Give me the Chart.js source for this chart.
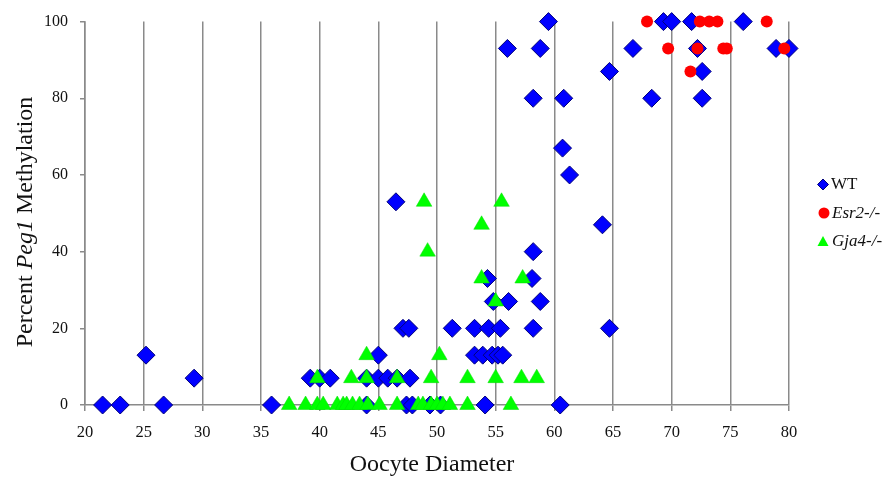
<!DOCTYPE html>
<html><head><meta charset="utf-8">
<script src="https://cdn.jsdelivr.net/npm/chart.js@4/dist/chart.umd.min.js"></script>
<style>html,body{margin:0;padding:0;background:#fff}#wrap{width:892px;height:488px;position:relative}</style>
</head><body><div id="wrap"><canvas id="c" width="892" height="488" style="width:892px;height:488px"></canvas></div>
<script>
// ---- data ----
const xTickValues = [20,25,30,35,40,45,50,55,60,65,70,75,80];
const yTickValues = [0,20,40,60,80,100];
const seriesNames = ['WT','Esr2-/-','Gja4-/-'];

const wtDiameter = [21.5,23,25.2,26.7,29.3,35.9,39.2,40,40.9,44,44,45,45,45.8,46.5,46.6,47.1,47.6,47.4,47.9,47.7,49.4,50.3,51.3,53.2,54.4,55.4,53.2,53.9,54.7,55.2,55.6,54.1,54.3,54.8,56.1,56,58.2,58.1,58.2,58.2,58.8,58.8,59.5,60.5,60.7,60.8,61.3,64.1,64.7,64.7,66.7,68.3,69.3,70,71.7,72.2,72.6,72.6,76.1,78.9,80];
const wtMethylation = [0,0,13,0,7,0,7,7,7,0,7,7,13,7,53,7,20,20,0,0,7,0,0,20,20,20,20,13,13,13,13,13,0,33,27,27,93,80,33,40,20,27,93,100,0,67,80,60,47,20,87,93,80,100,100,100,93,87,80,100,93,93];

const esr2Diameter = [67.9,72.4,73.2,73.9,78.1,69.7,72.2,74.4,74.7,79.6,71.6];
const esr2Methylation = [100,100,100,100,100,93,93,93,93,93,87];

const gja4Diameter = [37.4,38.8,39.8,40.3,41.5,42,42.3,42.8,43.4,44.1,45.1,46.6,48.4,48.8,49.5,50,50.5,51.1,52.6,56.3,
  39.8,42.7,44,46.6,49.5,52.6,55,57.2,58.5, 44,50.2, 55, 53.8,57.3, 49.2, 53.8, 48.9,55.5];
const gja4Methylation = [0,0,0,0,0,0,0,0,0,0,0,0,0,0,0,0,0,0,0,0,
  7,7,7,7,7,7,7,7,7, 13,13, 27, 33,33, 40, 47, 53,53];

function pts(xs, ys){ return xs.map((x,i)=>({x:x, y:ys[i]})); }

const SERIF = '"Liberation Serif", "Times New Roman", serif';
const GRID = '#8a8a8a';

function drawRich(ctx, parts, x, y, align){
  let total = 0;
  parts.forEach(p=>{ ctx.font = p.font; total += ctx.measureText(p.t).width; });
  let cx = align === 'center' ? x - total/2 : x;
  parts.forEach(p=>{ ctx.font = p.font; ctx.fillText(p.t, cx, y); cx += ctx.measureText(p.t).width; });
}

const annotations = {
  id: 'annotations',
  afterDraw(chart){
    const ctx = chart.ctx;
    ctx.save();
    ctx.fillStyle = '#111';
    ctx.textBaseline = 'middle';
    ctx.textAlign = 'left';
    drawRich(ctx, [{t:'Oocyte Diameter', font:'24px '+SERIF}], 432, 465, 'center');
    ctx.save();
    ctx.translate(26, 222);
    ctx.rotate(-Math.PI/2);
    drawRich(ctx, [
      {t:'Percent ', font:'24px '+SERIF},
      {t:'Peg1', font:'italic 24px '+SERIF},
      {t:' Methylation', font:'24px '+SERIF}
    ], 0, 0, 'center');
    ctx.restore();
    // legend markers
    ctx.beginPath();
    ctx.moveTo(823,179); ctx.lineTo(828.5,184.5); ctx.lineTo(823,190); ctx.lineTo(817.5,184.5); ctx.closePath();
    ctx.fillStyle = '#0000FF'; ctx.fill(); ctx.strokeStyle = '#00007a'; ctx.lineWidth = 1; ctx.stroke();
    ctx.beginPath(); ctx.arc(824,213,5.5,0,Math.PI*2); ctx.fillStyle = '#FF0000'; ctx.fill();
    ctx.beginPath(); ctx.moveTo(823,236); ctx.lineTo(828.5,246); ctx.lineTo(817.5,246); ctx.closePath();
    ctx.fillStyle = '#00FF00'; ctx.fill();
    ctx.fillStyle = '#111';
    drawRich(ctx, [{t:seriesNames[0], font:'17px '+SERIF}], 831, 185, 'left');
    drawRich(ctx, [{t:seriesNames[1], font:'italic 17px '+SERIF}], 832, 214, 'left');
    drawRich(ctx, [{t:seriesNames[2], font:'italic 17px '+SERIF}], 832, 242, 'left');
    ctx.restore();
  }
};

new Chart(document.getElementById('c'), {
  type: 'scatter',
  data: {
    datasets: [
      { label: seriesNames[0], data: pts(wtDiameter, wtMethylation), order: 3,
        pointStyle: 'rectRot', pointRadius: 9, pointHoverRadius: 9,
        backgroundColor: '#0000FF', borderColor: '#00007a', borderWidth: 1, clip: false },
      { label: seriesNames[1], data: pts(esr2Diameter, esr2Methylation), order: 2,
        pointStyle: 'circle', pointRadius: 6, pointHoverRadius: 6,
        backgroundColor: '#FF0000', borderColor: '#FF0000', borderWidth: 0, clip: false },
      { label: seriesNames[2], data: pts(gja4Diameter, gja4Methylation), order: 1,
        pointStyle: 'triangle', pointRadius: 9, pointHoverRadius: 9,
        backgroundColor: '#00FF00', borderColor: '#00DD00', borderWidth: 0.5, clip: false }
    ]
  },
  options: {
    responsive: false,
    animation: false,
    devicePixelRatio: 1,
    layout: { padding: { top: 20, right: 103, left: 0, bottom: 0 } },
    plugins: { legend: { display: false }, tooltip: { enabled: false } },
    scales: {
      x: {
        type: 'linear', min: 20, max: 80,
        afterFit(s){ s.height = 83; },
        afterBuildTicks(s){ s.ticks = xTickValues.map(v=>({value:v})); },
        ticks: { color: '#111', font: { family: SERIF, size: 16.5 }, padding: 12, maxRotation: 0 },
        grid: { color: GRID, lineWidth: 1.5, tickLength: 6, drawTicks: true },
        border: { display: true, color: GRID, width: 1.5 }
      },
      y: {
        type: 'linear', min: 0, max: 100,
        afterFit(s){ s.width = 85; },
        afterBuildTicks(s){ s.ticks = yTickValues.map(v=>({value:v})); },
        ticks: { color: '#111', font: { family: SERIF, size: 16 }, padding: 12 },
        grid: { drawOnChartArea: false, drawTicks: true, tickLength: 5, color: GRID, lineWidth: 1.5 },
        border: { display: true, color: GRID, width: 1.5 }
      }
    }
  },
  plugins: [annotations]
});
</script></body></html>
